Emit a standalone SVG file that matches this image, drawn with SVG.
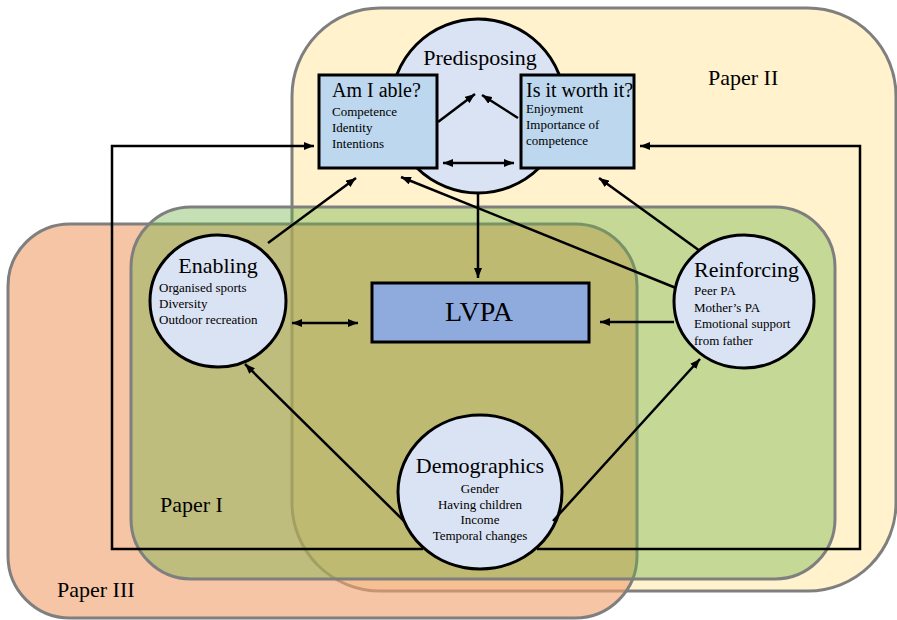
<svg xmlns="http://www.w3.org/2000/svg" width="897" height="620" viewBox="0 0 897 620">
<style>
.area{stroke:#7F7F7F;stroke-width:3}
.circ{fill:#DAE3F3;stroke:#000;stroke-width:3}
.box{fill:#BDD7EE;stroke:#000;stroke-width:3}
.t{font-family:"Liberation Serif","Times New Roman",serif;fill:#000}
.h{font-size:22px}
.q{font-size:20px}
.s{font-size:13px}
.c{fill:none;stroke:#000;stroke-width:2.5}
.lbl{font-family:"Liberation Serif","Times New Roman",serif;font-size:22px;fill:#000}
</style>
<defs>
<marker id="ah" viewBox="0 0 10 8" refX="10" refY="4" markerWidth="10" markerHeight="8" markerUnits="userSpaceOnUse" orient="auto-start-reverse">
<path d="M0,0 L10,4 L0,8 z" fill="#000"/>
</marker>
</defs>
<rect width="897" height="620" fill="#fff"/>
<g id="paper2">
<rect class="area" x="292" y="8" width="604" height="583" rx="88" fill="#FFF2CC"/>
<text class="lbl" x="708" y="85">Paper II</text>
</g>
<g id="paper3">
<rect class="area" x="8" y="224" width="629" height="394" rx="62" fill="#F0A16D" fill-opacity="0.62"/>
<text class="lbl" x="57" y="597">Paper III</text>
</g>
<g id="paper1">
<rect class="area" x="131" y="207" width="704" height="372" rx="60" fill="#6EB143" fill-opacity="0.4"/>
<text class="lbl" x="160" y="512">Paper I</text>
</g>
<g id="predisposing">
<circle class="circ" cx="478" cy="106" r="87"/>
<text class="t h" x="480" y="65" text-anchor="middle">Predisposing</text>
</g>
<g id="able">
<rect class="box" x="319" y="75" width="118" height="93"/>
<text class="t q" x="332" y="97">Am I able?</text>
<text class="t s" x="332" y="116">Competence</text>
<text class="t s" x="332" y="132">Identity</text>
<text class="t s" x="332" y="148">Intentions</text>
</g>
<g id="worth">
<rect class="box" x="521" y="75" width="113" height="93"/>
<text class="t q" x="526" y="97">Is it worth it?</text>
<text class="t s" x="526" y="113">Enjoyment</text>
<text class="t s" x="526" y="129">Importance of</text>
<text class="t s" x="526" y="145">competence</text>
</g>
<g id="lvpa">
<rect x="372" y="283" width="217" height="59" fill="#8FAADC" stroke="#000" stroke-width="3"/>
<text class="t" x="479" y="321" text-anchor="middle" font-size="28">LVPA</text>
</g>
<g id="enabling">
<ellipse class="circ" cx="218" cy="301" rx="68" ry="66"/>
<text class="t h" x="218" y="273" text-anchor="middle">Enabling</text>
<text class="t s" x="159" y="292">Organised sports</text>
<text class="t s" x="159" y="308">Diversity</text>
<text class="t s" x="159" y="324">Outdoor recreation</text>
</g>
<g id="reinforcing">
<ellipse class="circ" cx="744" cy="301.5" rx="70" ry="66.5"/>
<text class="t h" x="694" y="277">Reinforcing</text>
<text class="t s" x="694" y="295">Peer PA</text>
<text class="t s" x="694" y="312">Mother’s PA</text>
<text class="t s" x="694" y="328">Emotional support</text>
<text class="t s" x="694" y="345">from father</text>
</g>
<g id="demographics">
<ellipse class="circ" cx="480" cy="492" rx="82" ry="77"/>
<text class="t h" x="480" y="473" text-anchor="middle">Demographics</text>
<text class="t s" x="480" y="493" text-anchor="middle">Gender</text>
<text class="t s" x="480" y="509" text-anchor="middle">Having children</text>
<text class="t s" x="480" y="524" text-anchor="middle">Income</text>
<text class="t s" x="480" y="540" text-anchor="middle">Temporal changes</text>
</g>
<g id="connectors">
<line class="c" x1="438" y1="122" x2="475" y2="94" marker-end="url(#ah)"/>
<line class="c" x1="518" y1="118" x2="482" y2="95" marker-end="url(#ah)"/>
<line class="c" x1="443" y1="163" x2="514" y2="163" marker-start="url(#ah)" marker-end="url(#ah)"/>
<line class="c" x1="478" y1="194" x2="478" y2="278" marker-end="url(#ah)"/>
<line class="c" x1="292" y1="323" x2="358" y2="323" marker-start="url(#ah)" marker-end="url(#ah)"/>
<line class="c" x1="674" y1="322" x2="600" y2="322" marker-end="url(#ah)"/>
<line class="c" x1="268" y1="243" x2="356" y2="178" marker-end="url(#ah)"/>
<line class="c" x1="676" y1="288" x2="401" y2="177" marker-end="url(#ah)"/>
<line class="c" x1="700" y1="251" x2="599" y2="178" marker-end="url(#ah)"/>
<line class="c" x1="404" y1="521" x2="245" y2="364" marker-end="url(#ah)"/>
<line class="c" x1="553" y1="521" x2="700" y2="359" marker-end="url(#ah)"/>
<polyline class="c" points="423,549 112,549 112,146 314,146" marker-end="url(#ah)"/>
<polyline class="c" points="537,549 860,549 860,146 640,146" marker-end="url(#ah)"/>
</g>
</svg>
